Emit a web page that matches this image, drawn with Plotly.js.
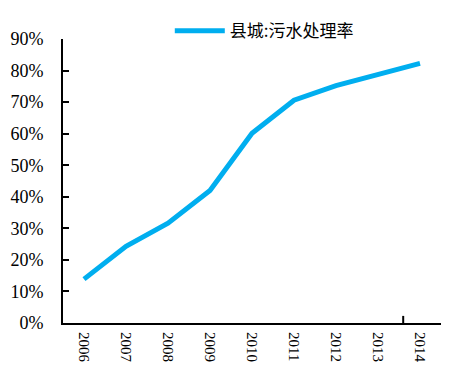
<!DOCTYPE html>
<html><head><meta charset="utf-8">
<script src="https://cdn.plot.ly/plotly-3.0.1.min.js"></script>
<style>html,body{margin:0;padding:0;background:#fff}</style>
</head><body>
<div id="chart" style="width:454px;height:386px"></div>
<script>
const years = ["2006","2007","2008","2009","2010","2011","2012","2013","2014"];
const rate = [0.139, 0.243, 0.316, 0.42, 0.601, 0.706, 0.752, 0.787, 0.823];
const seriesName = "县城:污水处理率";
const yTicks = [0,0.1,0.2,0.3,0.4,0.5,0.6,0.7,0.8,0.9];

const trace = {
  x: years, y: rate, name: seriesName, type: "scatter", mode: "lines",
  line: {color: "#00AEEF", width: 5},
  showlegend: true
};
const layout = {
  width: 454, height: 386,
  margin: {l: 63, r: 13, t: 39, b: 63, autoexpand: false},
  paper_bgcolor: "#fff", plot_bgcolor: "#fff",
  font: {family: "Liberation Serif", size: 15, color: "#000"},
  xaxis: {
    type: "category", range: [-0.5, 8.5], automargin: false,
    showline: true, linecolor: "#000", linewidth: 2,
    ticks: "", tickangle: 90, showgrid: false, zeroline: false,
    ticklabelstandoff: 4,
    tickfont: {family: "Liberation Serif", size: 15, color: "#000"}
  },
  yaxis: {
    range: [0, 0.9], tickvals: yTicks, tickformat: ".0%", automargin: false,
    showline: true, linecolor: "#000", linewidth: 2,
    ticks: "inside", ticklen: 6, tickwidth: 2, tickcolor: "#000",
    showgrid: false, zeroline: false, ticklabelstandoff: 14,
    tickfont: {family: "Liberation Serif", size: 18, color: "#000"}
  },
  shapes: [{type: "line", xref: "x", yref: "paper", x0: 7.6, x1: 7.6, y0: 0, y1: 0.025,
            line: {color: "#000", width: 2}}],
  legend: {
    xref: "container", yref: "container",
    x: 0.374, y: 0.966, xanchor: "left", yanchor: "top", orientation: "h",
    itemwidth: 50,
    bgcolor: "rgba(0,0,0,0)",
    font: {family: "Noto Sans CJK SC", size: 17, color: "#000"}
  }
};
Plotly.newPlot("chart", [trace], layout, {displayModeBar: false, staticPlot: true});
</script>
</body></html>
